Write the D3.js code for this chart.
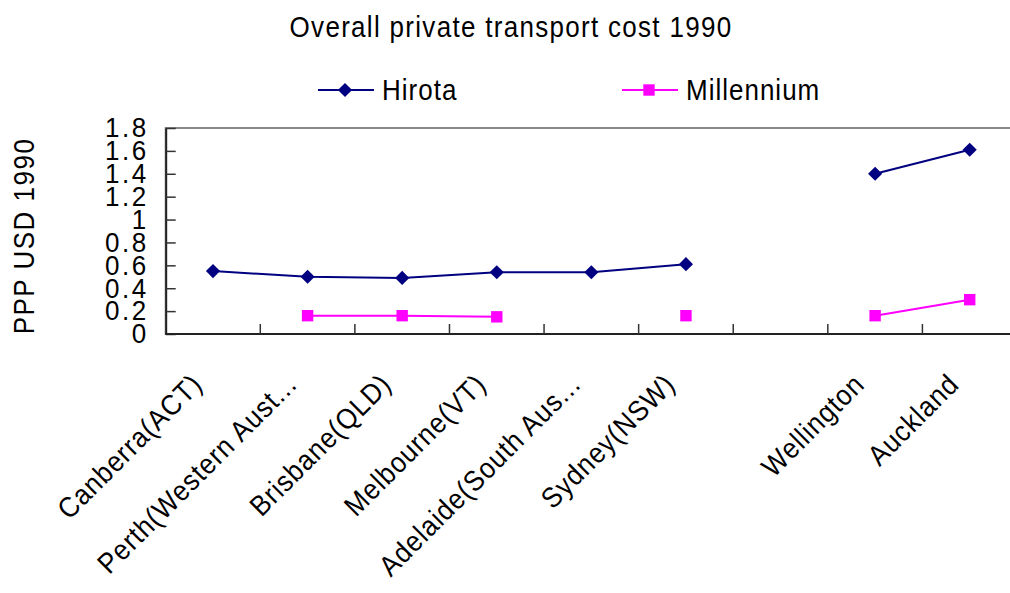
<!DOCTYPE html>
<html>
<head>
<meta charset="utf-8">
<script src="https://cdn.jsdelivr.net/npm/d3@7"></script>
<style>
  body { margin: 0; background: #fff; }
  text { font-family: "Liberation Sans", Arial, sans-serif; fill: #000; }
</style>
</head>
<body>
<svg></svg>
<script>
const width = 1010;
const height = 593;

const categories = ["Canberra(ACT)", "Perth(Western Aust...", "Brisbane(QLD)", "Melbourne(VT)",
  "Adelaide(South Aus...", "Sydney(NSW)", "", "Wellington", "Auckland"];
const hirota = [0.55, 0.50, 0.49, 0.54, 0.54, 0.61, null, 1.40, 1.61];
const millennium = [null, 0.16, 0.16, 0.15, null, 0.16, null, 0.16, 0.30];
const yTicks = [0, 0.2, 0.4, 0.6, 0.8, 1, 1.2, 1.4, 1.6, 1.8];

const svg = d3.select("svg").attr("width", width).attr("height", height);

const plotL = 165.7, plotR = 1017, plotT = 128, plotB = 334;
const stretch = 1.1; // the original font is taller than it is wide

const x = d3.scaleBand().domain(d3.range(categories.length)).range([plotL, plotR]).padding(0);
const y = d3.scaleLinear().domain([0, 1.8]).range([plotB, plotT]);

// title
svg.append("text")
  .attr("transform", `translate(511,37) scale(1,${stretch})`)
  .attr("text-anchor", "middle")
  .style("font-size", "26px")
  .style("letter-spacing", "1.3px")
  .text("Overall private transport cost 1990");

// plot frame (gray), axes drawn over it
svg.append("rect")
  .attr("x", plotL).attr("y", plotT)
  .attr("width", plotR - plotL).attr("height", plotB - plotT)
  .attr("fill", "none")
  .attr("stroke", "#888")
  .attr("stroke-width", 2);

// y axis
const yAxis = d3.axisLeft(y)
  .tickValues(yTicks)
  .tickSizeInner(-10)
  .tickSizeOuter(0)
  .tickPadding(17)
  .tickFormat(d3.format("~g"));

const gy = svg.append("g")
  .attr("transform", `translate(${plotL},0)`)
  .call(yAxis);
gy.select(".domain").attr("stroke", "#222").attr("stroke-width", 2);
gy.selectAll(".tick line").attr("stroke", "#333").attr("stroke-width", 1.5);
gy.selectAll(".tick text")
  .attr("transform", "scale(1,1.06)")
  .style("font-size", "26px")
  .style("letter-spacing", "2.5px")
  .style("font-family", "'Liberation Sans', Arial, sans-serif");

// x axis line and boundary ticks
svg.append("line")
  .attr("x1", plotL).attr("x2", plotR)
  .attr("y1", plotB).attr("y2", plotB)
  .attr("stroke", "#222").attr("stroke-width", 2);

const bounds = d3.range(1, categories.length).map(i => x(i));
svg.append("g").selectAll("line")
  .data(bounds)
  .join("line")
  .attr("x1", d => d).attr("x2", d => d)
  .attr("y1", plotB).attr("y2", plotB - 10)
  .attr("stroke", "#333").attr("stroke-width", 1.5);

// x labels
const cx = i => x(i) + x.bandwidth() / 2;
svg.append("g").selectAll("text")
  .data(categories)
  .join("text")
  .attr("transform", (d, i) => `translate(${cx(i) - 9},386) rotate(-45) scale(1,${stretch})`)
  .attr("text-anchor", "end")
  .style("font-size", "26px")
  .style("letter-spacing", "1px")
  .text(d => d);

// y axis title
svg.append("text")
  .attr("transform", `translate(34,236) rotate(-90) scale(1,${stretch})`)
  .attr("text-anchor", "middle")
  .style("font-size", "26px")
  .style("letter-spacing", "1.5px")
  .text("PPP USD 1990");

// series
const series = [
  { name: "Hirota", values: hirota, color: "#000080", symbol: "diamond" },
  { name: "Millennium", values: millennium, color: "#FF00FF", symbol: "square" }
];

const line = d3.line()
  .defined(d => d != null)
  .x((d, i) => cx(i))
  .y(d => y(d));

function marker(g, s) {
  if (s.symbol === "diamond") {
    g.append("path")
      .attr("d", d3.symbol(d3.symbolSquare, 100)())
      .attr("transform", "rotate(45)")
      .attr("fill", s.color);
  } else {
    g.append("path")
      .attr("d", d3.symbol(d3.symbolSquare, 130)())
      .attr("fill", s.color);
  }
}

series.forEach(s => {
  svg.append("path")
    .attr("d", line(s.values))
    .attr("fill", "none")
    .attr("stroke", s.color)
    .attr("stroke-width", 2);

  s.values.forEach((v, i) => {
    if (v == null) return;
    const g = svg.append("g").attr("transform", `translate(${cx(i)},${y(v)})`);
    marker(g, s);
  });
});

// legend
const legendItems = [
  { s: series[0], x: 318 },
  { s: series[1], x: 622 }
];
legendItems.forEach(({ s, x: lx }) => {
  const g = svg.append("g").attr("transform", `translate(${lx},90)`);
  g.append("line")
    .attr("x1", 0).attr("x2", 56)
    .attr("y1", 0).attr("y2", 0)
    .attr("stroke", s.color).attr("stroke-width", 2);
  const m = g.append("g").attr("transform", "translate(27,0)");
  marker(m, s);
  g.append("text")
    .attr("transform", `translate(64,10) scale(1,${stretch})`)
    .style("font-size", "26px")
    .style("letter-spacing", "1px")
    .text(s.name);
});
</script>
</body>
</html>
